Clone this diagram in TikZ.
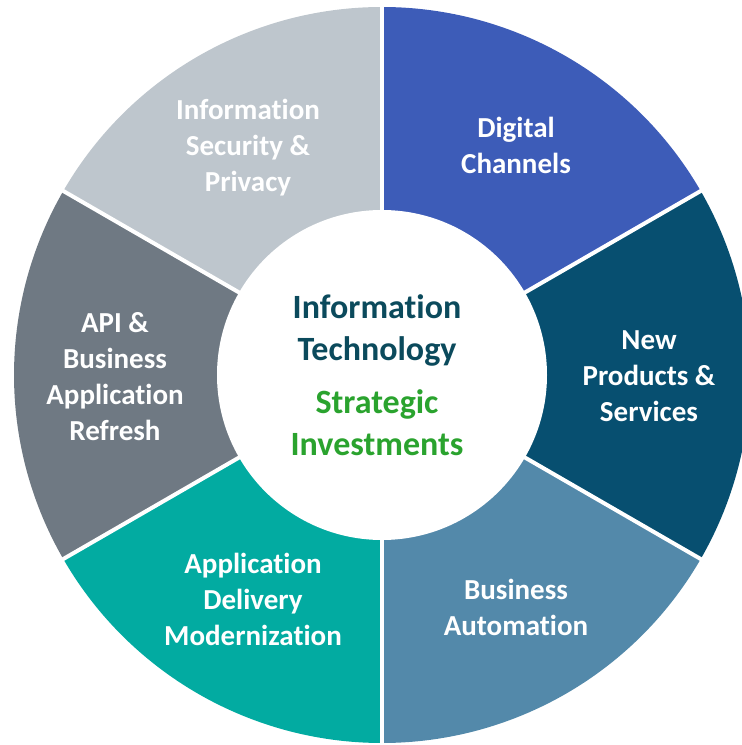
\documentclass[tikz,border=0pt]{standalone}
\usepackage{fontspec}
\setmainfont{Carlito}[Ligatures=NoCommon]
\definecolor{cLightGray}{HTML}{BEC6CD}
\definecolor{cBlue}{HTML}{3D5CB8}
\definecolor{cDarkTeal}{HTML}{074F70}
\definecolor{cSteel}{HTML}{5389AA}
\definecolor{cTeal}{HTML}{02ABA1}
\definecolor{cGray}{HTML}{6F7983}
\definecolor{cTitle}{HTML}{0B4A5C}
\definecolor{cGreen}{HTML}{2AA32E}
\newcommand{\Rout}{368pt}
\newcommand{\Rin}{165pt}
\tikzset{
  seglabel/.style={text=white, align=center, font=\bfseries\fontsize{29pt}{36pt}\selectfont},
  centerlabel/.style={align=center, font=\bfseries\fontsize{34pt}{42pt}\selectfont},
  gapline/.style={white, line width=4pt}
}
\begin{document}
\begin{tikzpicture}
\useasboundingbox (0,0) rectangle (742pt,745pt);
\clip (0,0) rectangle (742pt,745pt);
\coordinate (c) at (382pt,370pt);
% sectors
\fill[cBlue] (c) -- ([shift={(c)}]90:\Rout) arc[start angle=90, end angle=30, radius=\Rout] -- cycle;
\fill[cDarkTeal] (c) -- ([shift={(c)}]30:\Rout) arc[start angle=30, end angle=-30, radius=\Rout] -- cycle;
\fill[cSteel] (c) -- ([shift={(c)}]-30:\Rout) arc[start angle=-30, end angle=-90, radius=\Rout] -- cycle;
\fill[cTeal] (c) -- ([shift={(c)}]-90:\Rout) arc[start angle=-90, end angle=-150, radius=\Rout] -- cycle;
\fill[cGray] (c) -- ([shift={(c)}]-150:\Rout) arc[start angle=-150, end angle=-210, radius=\Rout] -- cycle;
\fill[cLightGray] (c) -- ([shift={(c)}]150:\Rout) arc[start angle=150, end angle=90, radius=\Rout] -- cycle;
% gaps
\foreach \a in {90,30,-30,-90,-150,150}
  \draw[gapline] (c) -- ([shift={(c)}]\a:380pt);
% inner circle
\fill[white] (c) circle[radius=\Rin];
% labels
\node[seglabel] (sec) at (248pt,597pt) {Information\\Security \&\\Privacy};
\node[seglabel] (dig) at (516pt,600pt) {Digital\\Channels};
\node[seglabel] (npr) at (649pt,369pt) {New\\Products \&\\Services};
\node[seglabel] (aut) at (516pt,138pt) {Business\\Automation};
\node[seglabel] (mod) at (253pt,146pt) {Application\\Delivery\\Modernization};
\node[seglabel] (api) at (115pt,368pt) {API \&\\Business\\Application\\Refresh};
\node[centerlabel, text=cTitle] (it) at (377pt,415pt) {Information\\Technology};
\node[centerlabel, text=cGreen] (si) at (377pt,322pt) {Strategic\\Investments};
\end{tikzpicture}
\end{document}
